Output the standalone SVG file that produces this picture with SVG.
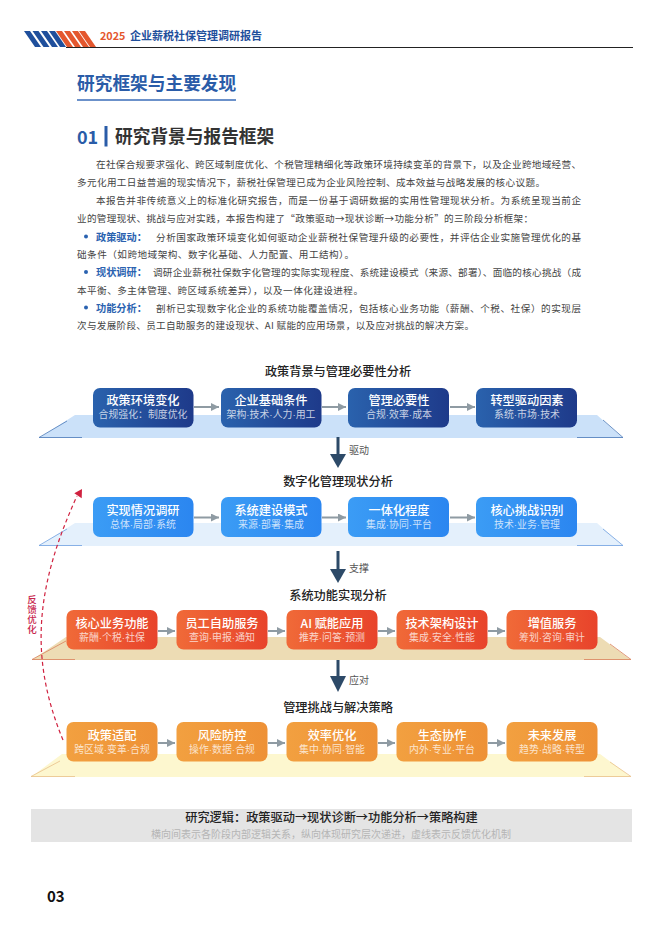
<svg xmlns="http://www.w3.org/2000/svg" width="662" height="936" viewBox="0 0 662 936">
<style>
text{font-family:"Noto Sans CJK SC","Noto Sans",sans-serif}
.b{font-size:9.6px;fill:#444}
.k{font-size:10.2px;fill:#2a62b0;font-weight:700}
.rt{font-size:12.2px;fill:#222;font-weight:500;text-anchor:middle}
.bt{font-size:12.2px;fill:#fff;font-weight:500;text-anchor:middle}
.bs{font-family:"Liberation Sans","Noto Sans CJK SC",sans-serif;font-size:9.9px;fill:#fff;fill-opacity:.75;text-anchor:middle}
.lb{font-size:10px;fill:#555}
.ga{stroke:#8f9ba3;stroke-width:2;fill:none;marker-end:url(#g)}
.da{stroke:#2d4a68;stroke-width:3;fill:none}
</style>
<defs>
<marker id="g" markerUnits="userSpaceOnUse" markerWidth="10" markerHeight="10" refX="8" refY="4" orient="auto"><path d="M0 0L8 4L0 8z" fill="#8f9ba3"/></marker>
<linearGradient id="r1"><stop offset="0" stop-color="#2a62ad"/><stop offset="1" stop-color="#1e3a8a"/></linearGradient>
<linearGradient id="r2"><stop offset="0" stop-color="#3b9cf5"/><stop offset="1" stop-color="#2b86f0"/></linearGradient>
<linearGradient id="r3"><stop offset="0" stop-color="#f06a38"/><stop offset="1" stop-color="#e8432b"/></linearGradient>
<linearGradient id="r4"><stop offset="0" stop-color="#f2a040"/><stop offset="1" stop-color="#ee9136"/></linearGradient>
</defs>
<rect width="662" height="936" fill="#fff"/>
<g id="header">
<path d="M66 47.500H633" stroke="#222" stroke-width="1"/>
<g fill="#1f4f9c"><path d="M24 31h6l11 16h-6zM32.500 31h6l11 16h-6zM41 31h6l11 16h-6zM49 31h6l11 16h-6z"/></g>
<g fill="#e4572e"><path d="M56 31h6l11 16h-6zM64 31h6l11 16h-6zM72 31h6l11 16h-6zM79 31h6l11 16h-6z"/></g>
<text x="100" y="40" font-size="10.800" font-weight="700" fill="#e4572e">2025</text>
<text x="130" y="40" font-size="11" font-weight="700" fill="#1f4f9c">企业薪税社保管理调研报告</text>
</g>
<g id="heading">
<text x="77" y="90" font-size="17.700" font-weight="700" fill="#2a5ca8">研究框架与主要发现</text>
<path d="M77 100H236" stroke="#3a6cb8" stroke-width="1.500"/>
<text x="77" y="144" font-size="18" font-weight="700" fill="#2a5ca8">01</text>
<rect x="104.500" y="126" width="3" height="20.500" fill="#2a5ca8"/>
<text x="115" y="143" font-size="17.700" font-weight="700" fill="#333">研究背景与报告框架</text>
</g>
<g id="body">
<text class="b" x="96" y="168" textLength="485">在社保合规要求强化、跨区域制度优化、个税管理精细化等政策环境持续变革的背景下，以及企业跨地域经营、</text>
<text class="b" x="77" y="186" textLength="468">多元化用工日益普遍的现实情况下，薪税社保管理已成为企业风险控制、成本效益与战略发展的核心议题。</text>
<text class="b" x="96" y="204" textLength="485">本报告并非传统意义上的标准化研究报告，而是一份基于调研数据的实用性管理现状分析。为系统呈现当前企</text>
<text class="b" x="77" y="222" textLength="456">业的管理现状、挑战与应对实践，本报告构建了“政策驱动→现状诊断→功能分析”的三阶段分析框架：</text>
<circle cx="86" cy="236.500" r="2" fill="#2a62b0"/>
<text class="k" x="96" y="241">政策驱动：</text>
<text class="b" x="156" y="241" textLength="425">分析国家政策环境变化如何驱动企业薪税社保管理升级的必要性，并评估企业实施管理优化的基</text>
<text class="b" x="77" y="258" textLength="277">础条件（如跨地域架构、数字化基础、人力配置、用工结构）。</text>
<circle cx="86" cy="272" r="2" fill="#2a62b0"/>
<text class="k" x="96" y="276">现状调研：</text>
<text class="b" x="153" y="276" textLength="428">调研企业薪税社保数字化管理的实际实现程度、系统建设模式（来源、部署）、面临的核心挑战（成</text>
<text class="b" x="77" y="294" textLength="286">本平衡、多主体管理、跨区域系统差异），以及一体化建设进程。</text>
<circle cx="86" cy="307.500" r="2" fill="#2a62b0"/>
<text class="k" x="96" y="312">功能分析：</text>
<text class="b" x="156" y="312" textLength="425">剖析已实现数字化企业的系统功能覆盖情况，包括核心业务功能（薪酬、个税、社保）的实现层</text>
<text class="b" x="77" y="329" textLength="397">次与发展阶段、员工自助服务的建设现状、AI 赋能的应用场景，以及应对挑战的解决方案。</text>
</g>
<g id="platforms">
<path d="M75 415H597L623 438H39z" fill="#cbe1f9"/>
<path d="M67 421L39 437.500H82M603 420L623 437.500H577" fill="none" stroke="#4a78b8" stroke-width=".8"/>
<path d="M75 523H597L623 546H39z" fill="#e4f0fc"/>
<path d="M67 529L39 545.500H82M603 529L623 545.500H577" fill="none" stroke="#6ea0e0" stroke-width=".8"/>
<path d="M66 637H600L631 660H32z" fill="#eddcb4"/>
<path d="M66 641L32 659.500H75M610 644L631 659.500H584" fill="none" stroke="#d9805c" stroke-width=".8"/>
<path d="M62 754H600L631 777H31z" fill="#fdf7cf"/>
<path d="M60 761L31 776.500H75M610 762L631 776.500H584" fill="none" stroke="#e8c08a" stroke-width=".8"/>
</g>
<g id="connectors">
<path class="ga" d="M194 407H219"/><path class="ga" d="M322 407H346"/><path class="ga" d="M450 407H475"/>
<path class="ga" d="M194 517.500H219"/><path class="ga" d="M322 517.500H346"/><path class="ga" d="M450 517.500H475"/>
<path class="ga" d="M158 631H175"/><path class="ga" d="M268 631H285"/><path class="ga" d="M378 631H395"/><path class="ga" d="M488 631H505"/>
<path class="ga" d="M158 743H175"/><path class="ga" d="M268 743H285"/><path class="ga" d="M378 743H395"/><path class="ga" d="M488 743H505"/>
<path class="da" d="M338 437V456"/><path d="M330 454H346L338 468z" fill="#2d4a68"/>
<path class="da" d="M338 551V571"/><path d="M330 569H346L338 583z" fill="#2d4a68"/>
<path class="da" d="M338 660V678"/><path d="M330 676H346L338 692z" fill="#2d4a68"/>
<path d="M63 740C30 660 34 590 77 496" fill="none" stroke="#d0213f" stroke-width="1.200" stroke-dasharray="4 3"/>
<path d="M82 489L74.300 493.300L81.700 498.300z" fill="#d0213f"/>
</g>
<g id="connector-labels">
<text class="lb" x="349" y="454">驱动</text>
<text class="lb" x="349" y="572">支撑</text>
<text class="lb" x="349" y="684">应对</text>
<text x="32" y="595" font-size="9.500" font-weight="500" letter-spacing=".3" fill="#c8254d" writing-mode="vertical-rl">反馈优化</text>
</g>
<g id="row-titles">
<text class="rt" x="338" y="375.500">政策背景与管理必要性分析</text>
<text class="rt" x="338" y="485.500">数字化管理现状分析</text>
<text class="rt" x="338" y="599.500">系统功能实现分析</text>
<text class="rt" x="338" y="711.500">管理挑战与解决策略</text>
</g>
<g id="n1"><rect x="93" y="388" width="100.500" height="39.500" rx="7" fill="url(#r1)"/><text class="bt" x="143" y="404.500">政策环境变化</text><text class="bs" x="143" y="417.500">合规强化：制度优化</text></g>
<g id="n2"><rect x="221" y="388" width="100.500" height="39.500" rx="7" fill="url(#r1)"/><text class="bt" x="271" y="404.500">企业基础条件</text><text class="bs" x="271" y="417.500">架构·技术·人力·用工</text></g>
<g id="n3"><rect x="348" y="388" width="101" height="39.500" rx="7" fill="url(#r1)"/><text class="bt" x="399" y="404.500">管理必要性</text><text class="bs" x="399" y="417.500">合规·效率·成本</text></g>
<g id="n4"><rect x="476" y="388" width="101" height="39.500" rx="7" fill="url(#r1)"/><text class="bt" x="527" y="404.500">转型驱动因素</text><text class="bs" x="527" y="417.500">系统·市场·技术</text></g>
<g id="n5"><rect x="93" y="497" width="100.500" height="40" rx="7" fill="url(#r2)"/><text class="bt" x="143" y="515">实现情况调研</text><text class="bs" x="143" y="527.500">总体·局部·系统</text></g>
<g id="n6"><rect x="221" y="497" width="100.500" height="40" rx="7" fill="url(#r2)"/><text class="bt" x="271" y="515">系统建设模式</text><text class="bs" x="271" y="527.500">来源·部署·集成</text></g>
<g id="n7"><rect x="348" y="497" width="101" height="40" rx="7" fill="url(#r2)"/><text class="bt" x="399" y="515">一体化程度</text><text class="bs" x="399" y="527.500">集成·协同·平台</text></g>
<g id="n8"><rect x="476" y="497" width="101" height="40" rx="7" fill="url(#r2)"/><text class="bt" x="527" y="515">核心挑战识别</text><text class="bs" x="527" y="527.500">技术·业务·管理</text></g>
<g id="n9"><rect x="66.500" y="610" width="91" height="39.500" rx="7" fill="url(#r3)"/><text class="bt" x="112" y="628">核心业务功能</text><text class="bs" x="112" y="640.500">薪酬·个税·社保</text></g>
<g id="n10"><rect x="176.500" y="610" width="91" height="39.500" rx="7" fill="url(#r3)"/><text class="bt" x="222" y="628">员工自助服务</text><text class="bs" x="222" y="640.500">查询·申报·通知</text></g>
<g id="n11"><rect x="286.500" y="610" width="91" height="39.500" rx="7" fill="url(#r3)"/><text class="bt" x="332" y="628">AI 赋能应用</text><text class="bs" x="332" y="640.500">推荐·问答·预测</text></g>
<g id="n12"><rect x="396.500" y="610" width="91" height="39.500" rx="7" fill="url(#r3)"/><text class="bt" x="442" y="628">技术架构设计</text><text class="bs" x="442" y="640.500">集成·安全·性能</text></g>
<g id="n13"><rect x="506.500" y="610" width="91" height="39.500" rx="7" fill="url(#r3)"/><text class="bt" x="552" y="628">增值服务</text><text class="bs" x="552" y="640.500">筹划·咨询·审计</text></g>
<g id="n14"><rect x="66.500" y="722" width="91" height="39.500" rx="7" fill="url(#r4)"/><text class="bt" x="112" y="740">政策适配</text><text class="bs" x="112" y="752.500">跨区域·变革·合规</text></g>
<g id="n15"><rect x="176.500" y="722" width="91" height="39.500" rx="7" fill="url(#r4)"/><text class="bt" x="222" y="740">风险防控</text><text class="bs" x="222" y="752.500">操作·数据·合规</text></g>
<g id="n16"><rect x="286.500" y="722" width="91" height="39.500" rx="7" fill="url(#r4)"/><text class="bt" x="332" y="740">效率优化</text><text class="bs" x="332" y="752.500">集中·协同·智能</text></g>
<g id="n17"><rect x="396.500" y="722" width="91" height="39.500" rx="7" fill="url(#r4)"/><text class="bt" x="442" y="740">生态协作</text><text class="bs" x="442" y="752.500">内外·专业·平台</text></g>
<g id="n18"><rect x="506.500" y="722" width="91" height="39.500" rx="7" fill="url(#r4)"/><text class="bt" x="552" y="740">未来发展</text><text class="bs" x="552" y="752.500">趋势·战略·转型</text></g>
<g id="note">
<rect x="31" y="809" width="601" height="33" fill="#e4e4e4"/>
<text x="331.500" y="822" font-size="12.200" font-weight="500" fill="#222" text-anchor="middle">研究逻辑：政策驱动→现状诊断→功能分析→策略构建</text>
<text x="331" y="837.500" font-size="10" fill="#b5b5b5" text-anchor="middle">横向间表示各阶段内部逻辑关系，纵向体现研究层次递进，虚线表示反馈优化机制</text>
</g>
<text id="page" x="47" y="902" font-size="15" font-weight="700" fill="#111">03</text>
</svg>
